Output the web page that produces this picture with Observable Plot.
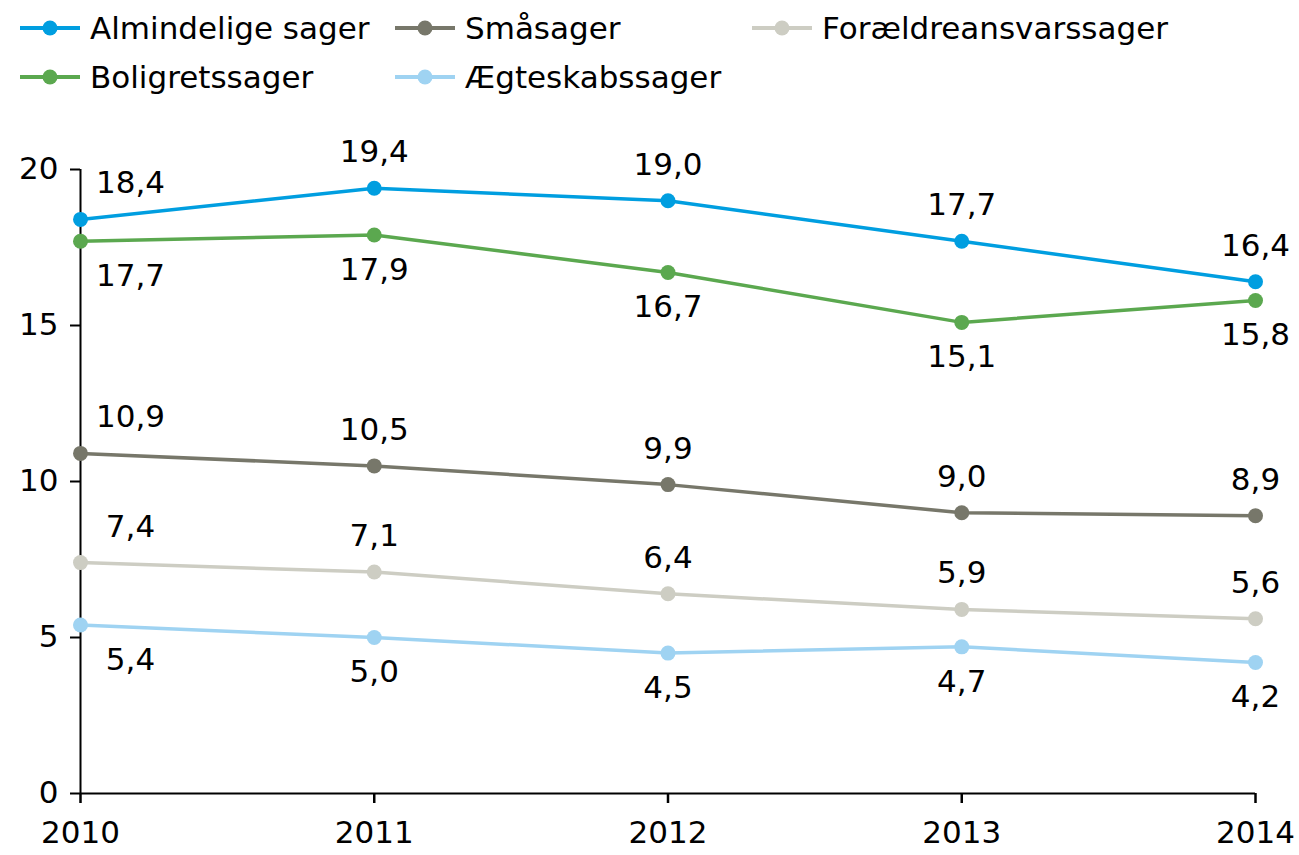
<!DOCTYPE html>
<html>
<head>
<meta charset="utf-8">
<script src="https://cdn.jsdelivr.net/npm/d3@7"></script>
<script src="https://cdn.jsdelivr.net/npm/@observablehq/plot@0.6"></script>
<style>
  body { margin: 0; background: #fff; font-family: "DejaVu Sans", Verdana, sans-serif; }
  #wrap { position: relative; width: 1299px; height: 855px; }
  #legend { position: absolute; left: 0; top: 0; width: 1299px; height: 110px; }
  .item { position: absolute; height: 40px; display: flex; align-items: center; font-size: 31px; color: #000; white-space: nowrap; }
  .item svg { margin-right: 10px; }
  #chart { position: absolute; left: 0; top: 110px; }
</style>
</head>
<body>
<div id="wrap">
  <div id="legend"></div>
  <div id="chart"></div>
</div>
<script>
const years = [2010, 2011, 2012, 2013, 2014];
const seriesNames = ["Almindelige sager", "Småsager", "Forældreansvarssager", "Boligretssager", "Ægteskabssager"];
const almindelige = [18.4, 19.4, 19.0, 17.7, 16.4];
const smaasager = [10.9, 10.5, 9.9, 9.0, 8.9];
const foraeldre = [7.4, 7.1, 6.4, 5.9, 5.6];
const boligret = [17.7, 17.9, 16.7, 15.1, 15.8];
const aegteskab = [5.4, 5.0, 4.5, 4.7, 4.2];
const colors = ["#009EE0", "#77776A", "#CDCDC3", "#5BA84F", "#9FD3F2"];
const labelAbove = [true, true, true, false, false];
const yTicks = [0, 5, 10, 15, 20];

const values = [almindelige, smaasager, foraeldre, boligret, aegteskab];
const data = [];
seriesNames.forEach((s, i) => {
  years.forEach((y, j) => {
    data.push({series: s, year: y, value: values[i][j], above: labelAbove[i], first: j === 0});
  });
});

// Legend
const legendPos = [[20, 8], [395, 8], [752, 8], [20, 57], [395, 57]];
const legend = document.getElementById("legend");
seriesNames.forEach((s, i) => {
  const d = document.createElement("div");
  d.className = "item";
  d.style.left = legendPos[i][0] + "px";
  d.style.top = legendPos[i][1] + "px";
  d.innerHTML = `<svg width="60" height="20"><line x1="0" y1="10" x2="60" y2="10" stroke="${colors[i]}" stroke-width="4"/><circle cx="30" cy="10" r="7.5" fill="${colors[i]}"/></svg><span>${s}</span>`;
  legend.appendChild(d);
});

const fmt = v => v.toFixed(1).replace(".", ",");
const FS = 31;

const chart = Plot.plot({
  width: 1299,
  height: 745,
  marginTop: 59,
  marginBottom: 62,
  marginLeft: 80,
  marginRight: 44,
  style: {fontFamily: "DejaVu Sans, Verdana, sans-serif", fontSize: FS + "px", background: "#fff", color: "#000", overflow: "visible"},
  x: {domain: [2010, 2014], label: null},
  y: {domain: [0, 20], label: null},
  color: {domain: seriesNames, range: colors},
  marks: [
    Plot.axisX({ticks: years, tickFormat: d => String(d), tickSize: 10, tickPadding: 17, fontSize: FS, stroke: "#000", strokeWidth: 2.5, strokeOpacity: 1, label: null}),
    Plot.axisY({ticks: yTicks, tickSize: 10, tickPadding: 12, fontSize: FS, stroke: "#000", strokeWidth: 2, strokeOpacity: 1, label: null}),
    Plot.ruleY([0], {stroke: "#000", strokeWidth: 2}),
    Plot.ruleX([2010], {stroke: "#000", strokeWidth: 2}),
    Plot.line(data, {x: "year", y: "value", z: "series", stroke: "series", strokeWidth: 3.5}),
    Plot.dot(data, {x: "year", y: "value", fill: "series", r: 7.5}),
    Plot.text(data.filter(d => d.above && !d.first), {x: "year", y: "value", text: d => fmt(d.value), dy: -36, fontSize: FS, fill: "#000"}),
    Plot.text(data.filter(d => !d.above && !d.first), {x: "year", y: "value", text: d => fmt(d.value), dy: 35, fontSize: FS, fill: "#000"}),
    Plot.text(data.filter(d => d.above && d.first), {x: "year", y: "value", text: d => fmt(d.value), dy: -36, dx: 50, fontSize: FS, fill: "#000"}),
    Plot.text(data.filter(d => !d.above && d.first), {x: "year", y: "value", text: d => fmt(d.value), dy: 35, dx: 50, fontSize: FS, fill: "#000"})
  ]
});
document.getElementById("chart").appendChild(chart);
</script>
</body>
</html>
